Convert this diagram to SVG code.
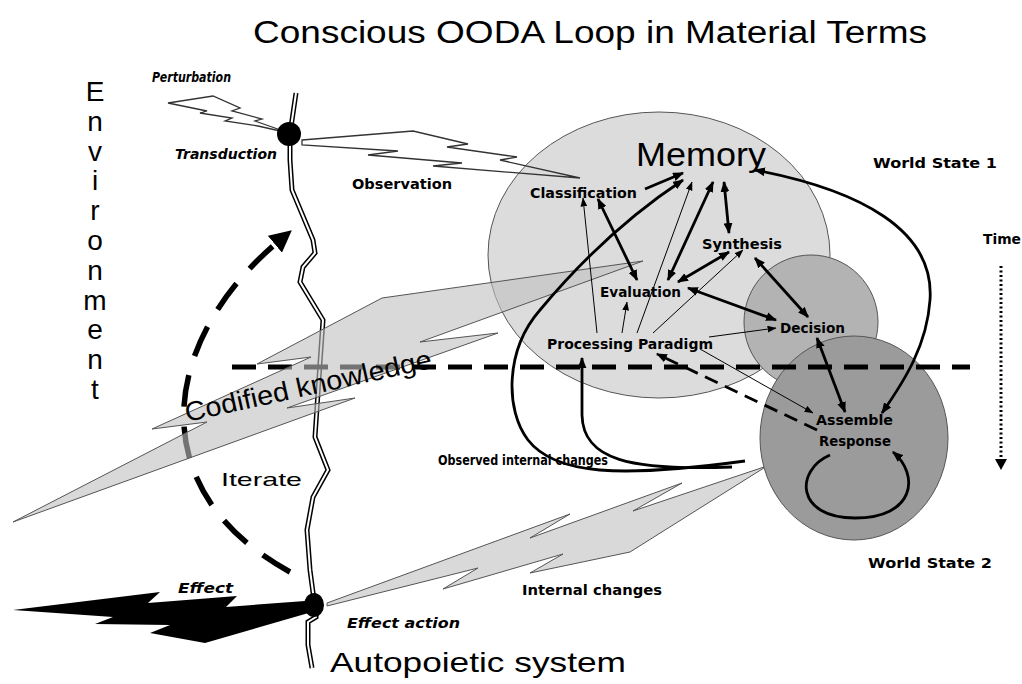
<svg xmlns="http://www.w3.org/2000/svg" width="1022" height="684" viewBox="0 0 1022 684">
<style>
.lbl{font-family:"DejaVu Sans","Liberation Sans",sans-serif;font-weight:bold;font-size:14px;fill:#000}
.it{font-style:italic}
.big{font-family:"Liberation Sans","DejaVu Sans",sans-serif;fill:#000}
.vert{writing-mode:vertical-rl;text-orientation:upright;letter-spacing:-1.2px}
.thick{fill:none;stroke:#000;stroke-width:2.8}
.thin{fill:none;stroke:#000;stroke-width:1}
.bolt{fill:none;stroke:#333;stroke-width:1.3;stroke-linejoin:miter}
.circ{stroke:#555;stroke-width:1}
</style>
<defs>
<marker id="ah" viewBox="0 0 10 8" refX="9" refY="4" markerWidth="11" markerHeight="9" markerUnits="userSpaceOnUse" orient="auto-start-reverse"><path d="M0,0 L10,4 L0,8 z" fill="#000"/></marker>
<marker id="ahs" viewBox="0 0 8 6" refX="7.5" refY="3" markerWidth="9" markerHeight="7" markerUnits="userSpaceOnUse" orient="auto-start-reverse"><path d="M0,0 L8,3 L0,6 z" fill="#000"/></marker>
<marker id="ahb" viewBox="0 0 10 10" refX="3" refY="5" markerWidth="22" markerHeight="22" markerUnits="userSpaceOnUse" orient="auto"><path d="M0,0 L10,5 L0,10 z" fill="#000"/></marker>
</defs>

<!-- Title -->
<text class="big" x="253" y="43" font-size="31" textLength="674" lengthAdjust="spacingAndGlyphs">Conscious OODA Loop in Material Terms</text>

<!-- Environment vertical -->
<g id="environment">
<text class="big vert" x="95" y="76" font-size="28">Environment</text>
</g>

<!-- Circles -->
<g id="memory"><ellipse class="circ" cx="659" cy="255" rx="171" ry="143" fill="#dcdcdc"/></g>
<g id="internal-changes-bolt">
<polygon points="327,603 570,514 530,538 682,483 633,511 767,466 630,552 530,573 563,554 443,589 478,568 327,606" fill="#d9d9d9" stroke="#555" stroke-width="1"/>
</g>
<g id="decision-circle"><circle class="circ" cx="811" cy="322" r="67" fill="#b3b3b3"/></g>
<g id="assemble-circle"><ellipse class="circ" cx="854" cy="438" rx="94" ry="102" fill="#9b9b9b"/></g>

<!-- Perturbation and observation bolts -->
<g id="perturbation-bolt"><polygon class="bolt" points="168,103 213,96 240,108 232,111 262,119 255,121 289,133 258,126 225,121 232,118 200,113 207,111"/></g>
<g id="observation-bolt"><polygon class="bolt" points="302,140 413,131 468,144 447,147 517,157 500,160 580,178 433,166 462,163 368,155 398,151 302,145"/></g>

<!-- Boundary double line -->
<g id="boundary">
<path d="M296,93 L290,134 L290,160 L292,190 L313,240 L315,253 L303,267 L300,282 L323,320 L320,363 L315,437 L328,470 L313,497 L307,530 L310,570 L314,600" fill="none" stroke="#000" stroke-width="5"/>
<path d="M296,93 L290,134 L290,160 L292,190 L313,240 L315,253 L303,267 L300,282 L323,320 L320,363 L315,437 L328,470 L313,497 L307,530 L310,570 L314,600" fill="none" stroke="#fff" stroke-width="2"/>
<path d="M316,612 L316,617 L308,622 L308,645 L312,668" fill="none" stroke="#000" stroke-width="5"/>
<path d="M316,612 L316,617 L308,622 L308,645 L312,668" fill="none" stroke="#fff" stroke-width="2"/>
</g>

<!-- Iterate dashed arrow -->
<g id="iterate-arrow">
<path d="M290,572 C140,490 160,340 280,240" fill="none" stroke="#000" stroke-width="5.5" stroke-dasharray="32 20" marker-end="url(#ahb)"/>
</g>

<!-- Horizontal dashed line -->
<line x1="232" y1="367" x2="970" y2="367" stroke="#000" stroke-width="5" stroke-dasharray="24 12"/>

<!-- Time arrow -->
<g id="time-arrow">
<line x1="1001" y1="266" x2="1001" y2="460" stroke="#000" stroke-width="3" stroke-dasharray="2 2.5"/>
<polygon points="995,459 1007,459 1001,470" fill="#000"/>
</g>

<!-- Codified knowledge bolt -->
<g id="codified-bolt">
<polygon points="13,522 207,422 152,429 311,357 257,364 382,298 643,261 420,342 498,333 287,408 355,398" fill="#c0c0c0" fill-opacity="0.6" stroke="#555" stroke-width="1"/>
</g>

<!-- Effect black bolt -->
<g id="effect-bolt">
<polygon points="13,610 160,592 148,603 237,596 226,607 305,601 312,612 205,643 150,633 170,625 95,624 113,617" fill="#000"/>
</g>

<!-- Connectors -->
<g id="connectors">
<path class="thick" d="M645,189 L683,173" marker-end="url(#ah)"/>
<path class="thick" d="M668,280 L713,182" marker-start="url(#ah)" marker-end="url(#ah)"/>
<path class="thick" d="M724,182 L729,233" marker-start="url(#ah)" marker-end="url(#ah)"/>
<path class="thick" d="M598,199 L637,280" marker-start="url(#ah)" marker-end="url(#ah)"/>
<path class="thick" d="M678,282 L729,252" marker-start="url(#ah)" marker-end="url(#ah)"/>
<path class="thick" d="M688,288 L776,320" marker-start="url(#ah)" marker-end="url(#ah)"/>
<path class="thick" d="M755,258 L808,317" marker-start="url(#ah)" marker-end="url(#ah)"/>
<path class="thick" d="M817,338 L845,412" marker-start="url(#ah)" marker-end="url(#ah)"/>
<path class="thick" d="M755,170 C860,190 935,230 930,300 C927,345 905,380 882,413" marker-start="url(#ah)" marker-end="url(#ah)"/>
<path class="thick" d="M745,461 C620,478 555,475 528,440 C505,410 505,350 540,310 C580,262 630,215 683,180" marker-end="url(#ah)"/>
<path class="thick" d="M732,467 C630,471 583,460 582,415 L582,358" marker-end="url(#ah)"/>
<path class="thin" d="M637,333 L692,182" marker-end="url(#ahs)"/>
<path class="thin" d="M597,333 L583,198" marker-end="url(#ahs)"/>
<path class="thin" d="M622,333 L627,302" marker-end="url(#ahs)"/>
<path class="thin" d="M653,333 L743,250" marker-end="url(#ahs)"/>
<path class="thin" d="M709,337 L776,328" marker-end="url(#ahs)"/>
<path class="thin" d="M700,349 L813,413" marker-end="url(#ahs)"/>
<path class="thick" d="M817,430 L657,354" stroke-dasharray="14 8" marker-end="url(#ah)"/>
<path class="thick" d="M830,455 C795,470 795,518 855,518 C915,518 920,475 893,452" marker-end="url(#ah)"/>
</g>

<!-- Balls -->
<g id="transduction-node"><circle cx="289" cy="134" r="12" fill="#000"/></g>
<g id="effect-node"><ellipse cx="314" cy="605" rx="10" ry="12" fill="#000"/></g>

<!-- Labels -->
<text class="lbl it" x="152" y="82" font-size="12" textLength="79" lengthAdjust="spacingAndGlyphs">Perturbation</text>
<text class="lbl it" x="175" y="159" textLength="102" lengthAdjust="spacingAndGlyphs">Transduction</text>
<text class="lbl" x="352" y="189" textLength="100" lengthAdjust="spacingAndGlyphs">Observation</text>
<g id="node-classification"><text class="lbl" x="530" y="198" textLength="107" lengthAdjust="spacingAndGlyphs">Classification</text></g>
<g id="node-memory"><text class="big" x="636" y="166" font-size="33" textLength="130" lengthAdjust="spacingAndGlyphs">Memory</text></g>
<g id="node-synthesis"><text class="lbl" x="702" y="249" textLength="80" lengthAdjust="spacingAndGlyphs">Synthesis</text></g>
<g id="node-evaluation"><text class="lbl" x="600" y="297" textLength="81" lengthAdjust="spacingAndGlyphs">Evaluation</text></g>
<g id="node-processing"><text class="lbl" x="547" y="349" textLength="166" lengthAdjust="spacingAndGlyphs">Processing Paradigm</text></g>
<g id="node-decision"><text class="lbl" x="780" y="333" textLength="65" lengthAdjust="spacingAndGlyphs">Decision</text></g>
<g id="node-assemble"><text class="lbl" x="816" y="425" textLength="77" lengthAdjust="spacingAndGlyphs">Assemble</text><text class="lbl" x="819" y="446" textLength="72" lengthAdjust="spacingAndGlyphs">Response</text></g>
<text class="lbl" x="873" y="168" textLength="124" lengthAdjust="spacingAndGlyphs">World State 1</text>
<text class="lbl" x="983" y="244" textLength="38" lengthAdjust="spacingAndGlyphs">Time</text>
<text class="lbl" x="868" y="568" textLength="124" lengthAdjust="spacingAndGlyphs">World State 2</text>
<text class="lbl" x="438" y="465" textLength="170" lengthAdjust="spacingAndGlyphs">Observed internal changes</text>
<text class="lbl" x="522" y="595" textLength="140" lengthAdjust="spacingAndGlyphs">Internal changes</text>
<text class="lbl it" x="178" y="593" textLength="55" lengthAdjust="spacingAndGlyphs">Effect</text>
<text class="lbl it" x="347" y="628" textLength="113" lengthAdjust="spacingAndGlyphs">Effect action</text>
<text class="big" x="330" y="672" font-size="28" textLength="296" lengthAdjust="spacingAndGlyphs">Autopoietic system</text>
<text class="big" x="221" y="486" font-size="19" textLength="81" lengthAdjust="spacingAndGlyphs">Iterate</text>
<text class="big" x="0" y="0" font-size="27" textLength="252" lengthAdjust="spacingAndGlyphs" transform="translate(187,422) rotate(-12.4)">Codified knowledge</text>
</svg>
